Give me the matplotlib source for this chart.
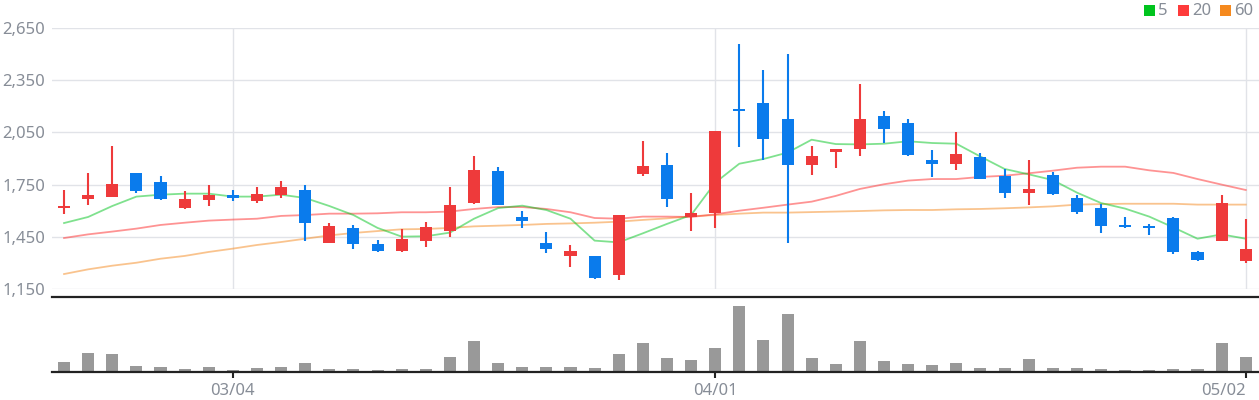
import matplotlib
matplotlib.use("Agg")
import matplotlib.pyplot as plt
from matplotlib.patches import Rectangle

# ---------------- data ----------------
opens = [1617, 1667, 1679, 1817, 1765, 1615, 1661, 1690, 1656, 1690,
         1719, 1416, 1501, 1411, 1370, 1428, 1485, 1646, 1828, 1564,
         1414, 1342, 1340, 1230, 1813, 1863, 1564, 1587, 2184, 2219,
         2127, 1865, 1937, 1956, 2144, 2104, 1891, 1870, 1909, 1799,
         1704, 1805, 1673, 1615, 1518, 1512, 1558, 1363, 1428, 1313]
closes = [1629, 1690, 1753, 1713, 1667, 1667, 1690, 1675, 1696, 1736,
          1531, 1512, 1411, 1370, 1439, 1506, 1633, 1834, 1633, 1543,
          1382, 1368, 1215, 1575, 1857, 1669, 1587, 2058, 2173, 2012,
          1865, 1914, 1956, 2127, 2071, 1920, 1870, 1926, 1784, 1704,
          1725, 1698, 1594, 1514, 1508, 1503, 1365, 1319, 1644, 1380]
highs = [1719, 1817, 1972, 1817, 1799, 1713, 1748, 1719, 1736, 1771,
         1748, 1529, 1518, 1432, 1495, 1535, 1736, 1914, 1851, 1598,
         1478, 1403, 1340, 1575, 2001, 1932, 1702, 2058, 2558, 2409,
         2501, 1972, 1956, 2328, 2173, 2127, 1949, 2052, 1932, 1840,
         1891, 1822, 1690, 1638, 1564, 1524, 1564, 1370, 1690, 1552]
lows = [1583, 1633, 1679, 1704, 1661, 1610, 1627, 1656, 1644, 1673,
        1428, 1416, 1382, 1365, 1365, 1393, 1451, 1638, 1633, 1501,
        1357, 1278, 1209, 1204, 1801, 1623, 1485, 1501, 1968, 1891,
        1416, 1807, 1847, 1916, 1991, 1916, 1796, 1836, 1784, 1675,
        1633, 1692, 1583, 1474, 1503, 1462, 1353, 1313, 1428, 1301]
ma5 = [1529, 1564, 1627, 1681, 1692, 1698, 1698, 1681, 1681, 1692,
       1673, 1627, 1575, 1501, 1451, 1453, 1474, 1554, 1615, 1629,
       1604, 1554, 1428, 1418, 1470, 1524, 1575, 1761, 1870, 1897,
       1934, 2008, 1983, 1981, 1985, 1999, 1989, 1985, 1911, 1840,
       1809, 1776, 1704, 1644, 1612, 1566, 1504, 1439, 1464, 1439]
ma20 = [1443, 1464, 1480, 1497, 1518, 1531, 1543, 1549, 1554, 1570,
        1575, 1583, 1583, 1585, 1591, 1591, 1595, 1610, 1621, 1621,
        1610, 1591, 1558, 1554, 1566, 1566, 1564, 1579, 1600, 1617,
        1635, 1652, 1685, 1725, 1752, 1773, 1782, 1782, 1794, 1801,
        1815, 1830, 1847, 1853, 1853, 1832, 1817, 1782, 1750, 1719]
ma60 = [1236, 1263, 1284, 1301, 1324, 1340, 1363, 1382, 1403, 1420,
        1439, 1458, 1472, 1483, 1493, 1495, 1501, 1510, 1514, 1518,
        1524, 1527, 1531, 1537, 1547, 1556, 1568, 1575, 1583, 1589,
        1589, 1592, 1595, 1598, 1602, 1604, 1604, 1608, 1610, 1614,
        1619, 1625, 1635, 1638, 1640, 1640, 1640, 1635, 1635, 1635]
volumes = [30, 57, 54, 18, 15, 9, 15, 6, 12, 15,
           27, 9, 9, 6, 9, 9, 45, 93, 27, 15,
           15, 15, 12, 54, 87, 42, 36, 72, 195, 96,
           171, 42, 24, 93, 33, 24, 21, 27, 12, 12,
           39, 12, 12, 9, 6, 6, 9, 9, 87, 45]
date_tick_idx = [7, 27, 49]
date_tick_labels = ["03/04", "04/01", "05/02"]
price_ticks = [1150, 1450, 1750, 2050, 2350, 2650]
legend_labels = ["5", "20", "60"]

# ---------------- style ----------------
UP = "#ee3a3b"
DOWN = "#0a7bec"
C5 = "#00c41e"
C20 = "#fe3b3b"
C60 = "#f5891e"
GRID = "#e1e3e8"
TXT = "#878d97"
FONT = ["Noto Sans", "DejaVu Sans"]
plt.rcParams["font.family"] = FONT

W, H = 1259, 400
fig = plt.figure(figsize=(W / 100, H / 100), dpi=100)

def fx(px):
    return px / W

def fy(py):
    return 1 - py / H

# price axes: 2650 at y=28, 1150 at y=289
axp = fig.add_axes([fx(52), fy(289), fx(1259 - 52), fy(28) - fy(289)])
# volume axes: from y=297 to 372
axv = fig.add_axes([fx(52), fy(372), fx(1259 - 52), fy(297) - fy(372)])

n = len(opens)
xs = list(range(n))
xlim = (-0.5, 49.55)

# grid
for p in price_ticks:
    axp.axhline(p, color=GRID, lw=1.0, zorder=0)
for i in date_tick_idx:
    axp.axvline(i, color=GRID, lw=1.0, zorder=0)

# moving averages
axp.plot(xs, ma60, color=C60, lw=1.3, alpha=0.5, zorder=1)
axp.plot(xs, ma20, color=C20, lw=1.3, alpha=0.55, zorder=1)
axp.plot(xs, ma5, color=C5, lw=1.3, alpha=0.5, zorder=1)

# candles
bw = 0.5
min_body = 10
for i in xs:
    o, c, h, l = opens[i], closes[i], highs[i], lows[i]
    col = UP if c >= o else DOWN
    axp.vlines(i, l, h, color=col, lw=1.5, zorder=3)
    lo = min(o, c)
    hgt = max(abs(c - o), min_body)
    if abs(c - o) < min_body:
        lo = (o + c) / 2 - min_body / 2
    axp.add_patch(Rectangle((i - bw / 2, lo), bw, hgt, facecolor=col,
                            edgecolor="none", zorder=4))

axp.set_xlim(*xlim)
axp.set_ylim(1150, 2650)
axp.set_yticks(price_ticks)
axp.set_yticklabels([f"{p:,}" for p in price_ticks])
axp.tick_params(axis="y", length=0, pad=5, labelsize=12, labelcolor=TXT)
axp.set_xticks([])
for s in axp.spines.values():
    s.set_visible(False)
axp.patch.set_alpha(0)

# volume
axv.bar(xs, volumes, width=0.5, color="#999999", zorder=2)
axv.set_xlim(*xlim)
axv.set_ylim(0, 223)
axv.set_yticks([])
axv.set_xticks(date_tick_idx)
axv.set_xticklabels(date_tick_labels)
axv.tick_params(axis="x", length=4, width=1.5, color="#222222", pad=4,
                labelsize=12, labelcolor=TXT)
lbls = axv.get_xticklabels()
lbls[-1].set_horizontalalignment("right")
for side in ["left", "right"]:
    axv.spines[side].set_visible(False)
for side in ["top", "bottom"]:
    axv.spines[side].set_color("#222222")
    axv.spines[side].set_linewidth(1.6)
axv.patch.set_alpha(0)

# legend (top right)
leg_x = [1144, 1178, 1220]
for lx, lab, col in zip(leg_x, legend_labels, [C5, C20, C60]):
    fig.patches.append(Rectangle((fx(lx), fy(16)), fx(11), fy(5) - fy(16),
                                 transform=fig.transFigure, facecolor=col,
                                 edgecolor="none"))
    fig.text(fx(lx + 14), fy(11), lab, ha="left", va="center",
             fontsize=12, color=TXT)

fig.savefig("out.png", dpi=100)
